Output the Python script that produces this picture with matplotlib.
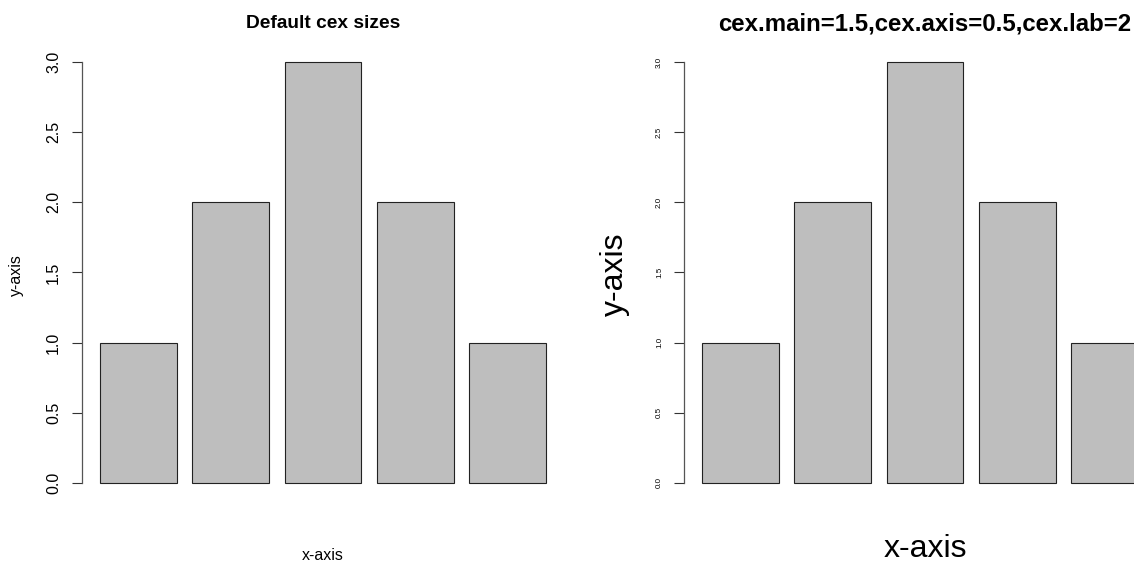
import matplotlib
matplotlib.use("Agg")
import matplotlib.pyplot as plt

# data
heights = [1, 2, 3, 2, 1]
yticks = [0.0, 0.5, 1.0, 1.5, 2.0, 2.5, 3.0]
ytick_labels = ["0.0", "0.5", "1.0", "1.5", "2.0", "2.5", "3.0"]
titles = ["Default cex sizes", "cex.main=1.5,cex.axis=0.5,cex.lab=2"]

W, H = 1134, 562
DPI = 100
PX = 72.0 / DPI  # points per pixel
CEX = 16  # px for cex = 1

plt.rcParams["font.family"] = ["Liberation Sans", "DejaVu Sans"]

fig = plt.figure(figsize=(W / DPI, H / DPI), dpi=DPI)
fig.patch.set_facecolor("white")

# R barplot layout: width 1, space 0.2
lefts = [0.2 + i * 1.2 for i in range(len(heights))]
xlim = (0.2 - 0.04 * 5.8, 6.0 + 0.04 * 5.8)
ylim = (-0.03 - 0.04 * 3.03, 3.0 + 0.04 * 3.03)

# per-panel cex settings and label placement (px)
panels = [
    dict(x0=82, axis=1.0, lab=1.0, main=1.2, ylab_x=16.5, xlab_y=556),
    dict(x0=684, axis=0.5, lab=2.0, main=1.5, ylab_x=615, xlab_y=549),
]

plot_w = 482
top_px, bot_px = 45, 504.2

for p, title in zip(panels, titles):
    ax = fig.add_axes([p["x0"] / W, (H - bot_px) / H, plot_w / W, (bot_px - top_px) / H])
    ax.bar(lefts, heights, width=1.0, align="edge", color="#BEBEBE",
           edgecolor="#222222", linewidth=0.8)
    ax.set_xlim(*xlim)
    ax.set_ylim(*ylim)
    for s in ["top", "right", "bottom"]:
        ax.spines[s].set_visible(False)
    ax.spines["left"].set_bounds(0, 3)
    ax.spines["left"].set_linewidth(0.9)
    ax.spines["left"].set_color("#555555")
    ax.set_xticks([])
    ax.set_yticks(yticks)
    ax.set_yticklabels(ytick_labels, rotation=90, va="center", ha="right")
    ax.tick_params(axis="y", direction="out", length=10 * PX, width=0.8,
                   color="#333333", pad=11 * PX, labelsize=p["axis"] * CEX * PX)

    cx = (p["x0"] + plot_w / 2) / W
    fig.text(cx, 1 - 24 / H, title, ha="center", va="center",
             fontsize=p["main"] * CEX * PX, fontweight="bold")
    fig.text(cx, 1 - p["xlab_y"] / H, "x-axis", ha="center", va="center",
             fontsize=p["lab"] * CEX * PX)
    fig.text(p["ylab_x"] / W, 1 - (top_px + bot_px) / 2 / H, "y-axis",
             ha="center", va="center", rotation=90, fontsize=p["lab"] * CEX * PX)

fig.savefig("out.png", dpi=DPI)
